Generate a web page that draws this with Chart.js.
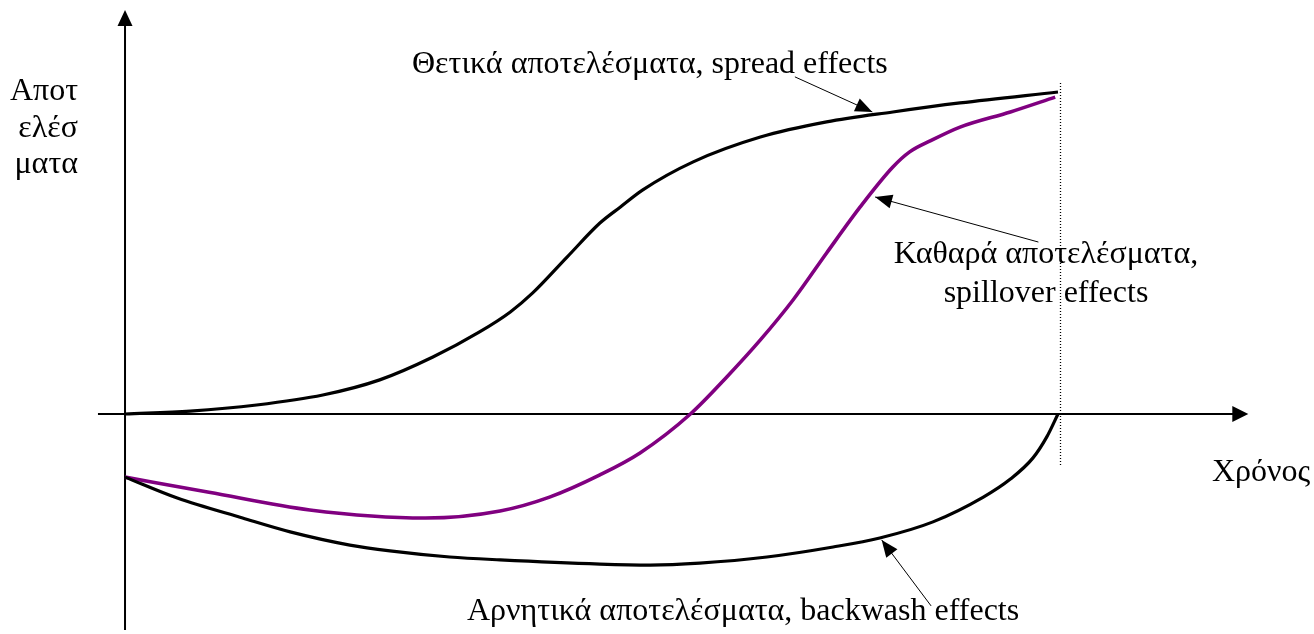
<!DOCTYPE html>
<html>
<head>
<meta charset="utf-8">
<script src="https://cdn.jsdelivr.net/npm/chart.js@4.4.1/dist/chart.umd.min.js"></script>
<style>
  html, body { margin: 0; padding: 0; background: #fff; }
  canvas { display: block; }
</style>
</head>
<body>
<canvas id="chart" width="1314" height="634"></canvas>
<script>
// Χρόνος (0..100) και αποτελέσματα (0 = άξονας x, 100 = τέλος θετικών)
const spreadX = [0, 7, 14.1, 21.2, 27.3, 33, 38, 41.3, 43.7, 47.4, 50.9, 53.1, 55.5, 60.9, 68.1, 75.2, 82.3, 89.5, 100];
const spreadY = [0, 0.9, 2.8, 5.9, 10.6, 17.7, 25.5, 31.7, 37.6, 48.8, 59.3, 64.3, 69.6, 78.3, 86, 90.7, 93.8, 96.6, 100];

const netX = [0, 9, 19.8, 32.2, 40.2, 45.5, 50.9, 55.2, 60.6, 64.5, 68.1, 71.6, 75.2, 78.8, 82.3, 84.1, 86.3, 89.5, 94.9, 99.7];
const netY = [-19.6, -24.3, -29.8, -32.3, -30.1, -25.8, -18.9, -12.1, 0, 11.5, 23, 35.4, 50, 64.3, 76.7, 81.4, 84.8, 89.1, 93.8, 98.4];

const backX = [0, 5.6, 12.6, 17.7, 24.1, 28.4, 34.8, 40.2, 50.9, 56.3, 61.6, 68.8, 75.9, 80.9, 86.6, 92, 94.9, 97.3, 98.8, 100];
const backY = [-19.6, -26.1, -32.3, -36.6, -40.7, -42.5, -44.4, -45.3, -46.6, -46.9, -46.3, -44.4, -41.3, -38.5, -33.5, -25.8, -20.2, -13.7, -7.1, 0];

// άξονες, διακεκομμένη γραμμή, βέλη (σε μονάδες δεδομένων)
const axisX = [-2.9, 120.4];
const axisY = [-67.1, 125.5];
const dottedX = 100.2;
const dottedY = [-15.8, 102.8];
const arrows = [
  { from: [71.8, 104.7], to: [80.1, 93.8] },
  { from: [97.9, 53.4], to: [80.4, 67.4] },
  { from: [86.4, -59.6], to: [81.1, -39.1] },
];

const FONT = "32px 'Liberation Serif', 'Times New Roman', serif";

function pts(xs, ys) {
  return xs.map((x, i) => ({ x, y: ys[i] }));
}

function arrowHead(ctx, x1, y1, x2, y2, len, half) {
  const a = Math.atan2(y2 - y1, x2 - x1);
  ctx.beginPath();
  ctx.moveTo(x2, y2);
  ctx.lineTo(x2 - len * Math.cos(a) + half * Math.sin(a), y2 - len * Math.sin(a) - half * Math.cos(a));
  ctx.lineTo(x2 - len * Math.cos(a) - half * Math.sin(a), y2 - len * Math.sin(a) + half * Math.cos(a));
  ctx.closePath();
  ctx.fill();
}

const decorPlugin = {
  id: "decor",
  beforeDatasetsDraw(chart) {
    const ctx = chart.ctx;
    const sx = chart.scales.x, sy = chart.scales.y;
    const x0 = sx.getPixelForValue(0), y0 = sy.getPixelForValue(0);
    ctx.save();
    ctx.strokeStyle = "#000";
    ctx.fillStyle = "#000";
    ctx.lineWidth = 2;
    // άξονας y
    const yTop = sy.getPixelForValue(axisY[1]);
    ctx.beginPath();
    ctx.moveTo(x0, sy.getPixelForValue(axisY[0]));
    ctx.lineTo(x0, yTop + 14);
    ctx.stroke();
    arrowHead(ctx, x0, yTop + 30, x0, yTop, 16, 7.5);
    // άξονας x
    const xEnd = sx.getPixelForValue(axisX[1]);
    ctx.beginPath();
    ctx.moveTo(sx.getPixelForValue(axisX[0]), y0);
    ctx.lineTo(xEnd - 14, y0);
    ctx.stroke();
    arrowHead(ctx, xEnd - 30, y0, xEnd, y0, 16, 8);
    // διακεκομμένη
    ctx.lineWidth = 1.3;
    ctx.setLineDash([1, 2]);
    const dx = Math.round(sx.getPixelForValue(dottedX)) + 0.5;
    ctx.beginPath();
    ctx.moveTo(dx, sy.getPixelForValue(dottedY[1]));
    ctx.lineTo(dx, sy.getPixelForValue(dottedY[0]));
    ctx.stroke();
    ctx.restore();
  },
  afterDatasetsDraw(chart) {
    const ctx = chart.ctx;
    const sx = chart.scales.x, sy = chart.scales.y;
    ctx.save();
    ctx.strokeStyle = "#000";
    ctx.fillStyle = "#000";
    ctx.lineWidth = 1;
    arrows.forEach((a) => {
      const x1 = sx.getPixelForValue(a.from[0]), y1 = sy.getPixelForValue(a.from[1]);
      const x2 = sx.getPixelForValue(a.to[0]), y2 = sy.getPixelForValue(a.to[1]);
      ctx.beginPath();
      ctx.moveTo(x1, y1);
      ctx.lineTo(x2, y2);
      ctx.stroke();
      arrowHead(ctx, x1, y1, x2, y2, 17, 7);
    });

    ctx.font = FONT;
    ctx.textBaseline = "alphabetic";
    ctx.textAlign = "right";
    ctx.fillText("Αποτ", 78, 100);
    ctx.fillText("ελέσ", 78, 137);
    ctx.fillText("ματα", 78, 173);

    ctx.textAlign = "left";
    ctx.fillText("Θετικά αποτελέσματα, spread effects", 412, 73);
    ctx.fillText("Χρόνος", 1212, 481);
    ctx.fillText("Αρνητικά αποτελέσματα, backwash effects", 467, 620);

    ctx.textAlign = "center";
    ctx.fillText("Καθαρά αποτελέσματα,", 1046, 263);
    ctx.fillText("spillover effects", 1046, 302);
    ctx.restore();
  },
};

const lineBase = {
  fill: false,
  pointRadius: 0,
  cubicInterpolationMode: "monotone",
  clip: false,
};

new Chart(document.getElementById("chart"), {
  type: "line",
  data: {
    datasets: [
      { ...lineBase, label: "spread", data: pts(spreadX, spreadY), borderColor: "#000", borderWidth: 3.2 },
      { ...lineBase, label: "backwash", data: pts(backX, backY), borderColor: "#000", borderWidth: 3.2 },
      { ...lineBase, label: "spillover", data: pts(netX, netY), borderColor: "#800080", borderWidth: 3.6 },
    ],
  },
  options: {
    responsive: false,
    animation: false,
    layout: { padding: 0 },
    plugins: { legend: { display: false }, tooltip: { enabled: false } },
    scales: {
      x: { type: "linear", display: false, min: -13.4, max: 127.44 },
      y: { type: "linear", display: false, min: -68.32, max: 128.57 },
    },
  },
  plugins: [decorPlugin],
});
</script>
</body>
</html>
